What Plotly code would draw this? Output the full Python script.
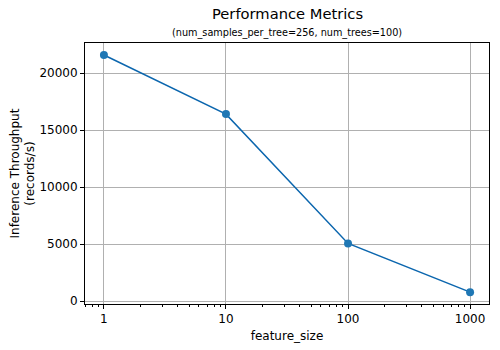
import plotly.graph_objects as go

feature_size = [1, 10, 100, 1000]
throughput = [21600, 16410, 5060, 790]
y_ticks = [0, 5000, 10000, 15000, 20000]
x_ticks = [1, 10, 100, 1000]
x_minor = [0.7, 0.8, 0.9] + [m * d for d in (1, 10, 100) for m in range(2, 10)]

fig = go.Figure()
fig.add_trace(go.Scatter(
    x=feature_size, y=throughput, mode="lines+markers",
    line=dict(color="#0b66ae", width=1.5),
    marker=dict(color="#1f77b4", size=8),
    showlegend=False,
))

font = "DejaVu Sans"
fig.update_layout(
    width=500, height=350,
    margin=dict(l=85, r=11, t=43, b=46),
    paper_bgcolor="white", plot_bgcolor="white",
    font=dict(family=font, size=12, color="black"),
    annotations=[
        dict(text="Performance Metrics", x=0.5, y=1, xref="paper", yref="paper",
             xanchor="center", yanchor="bottom", yshift=19, showarrow=False,
             font=dict(size=14.7, family=font)),
        dict(text="(num_samples_per_tree=256, num_trees=100)", x=0.5, y=1, xref="paper", yref="paper",
             xanchor="center", yanchor="bottom", yshift=2, showarrow=False,
             font=dict(size=9.7, family=font)),
        dict(text="Inference Throughput<br>(records/s)", x=0, y=0.5, xref="paper", yref="paper",
             xanchor="center", yanchor="middle", xshift=-63, textangle=-90, showarrow=False,
             font=dict(size=12, family=font)),
    ],
)
fig.update_xaxes(
    type="log", range=[-0.155, 3.155], automargin=False,
    tickvals=x_ticks, ticktext=[str(v) for v in x_ticks],
    ticks="outside", ticklen=4, tickcolor="black",
    minor=dict(tickvals=x_minor, ticks="outside", ticklen=2, tickcolor="black", showgrid=False),
    showgrid=True, gridcolor="#b0b0b0", gridwidth=1,
    showline=True, linecolor="black", linewidth=1, mirror=True,
    zeroline=False,
    title=dict(text="feature_size", font=dict(size=12), standoff=6),
    tickfont=dict(size=12),
)
fig.update_yaxes(
    range=[-250, 22650], automargin=False,
    tickvals=y_ticks, ticktext=[str(v) for v in y_ticks],
    ticks="outside", ticklen=4, tickcolor="black",
    showgrid=True, gridcolor="#b0b0b0", gridwidth=1,
    showline=True, linecolor="black", linewidth=1, mirror=True,
    zeroline=False,
    tickfont=dict(size=12),
)

fig.write_html("out.html")
